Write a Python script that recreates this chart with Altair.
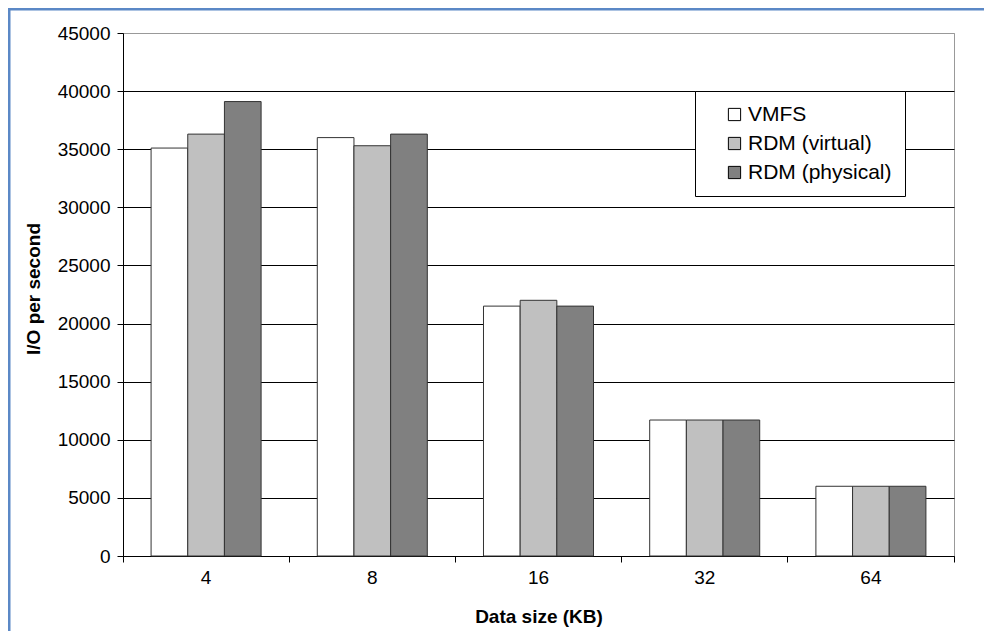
import altair as alt
import pandas as pd

categories = ["4", "8", "16", "32", "64"]
series = ["VMFS", "RDM (virtual)", "RDM (physical)"]
vmfs = [35100, 36000, 21500, 11700, 6000]
rdm_virtual = [36300, 35300, 22000, 11700, 6000]
rdm_physical = [39100, 36300, 21500, 11700, 6000]
y_ticks = [0, 5000, 10000, 15000, 20000, 25000, 30000, 35000, 40000, 45000]
colors = ["#ffffff", "#c0c0c0", "#808080"]

rows = []
for s, vals in zip(series, [vmfs, rdm_virtual, rdm_physical]):
    for c, v in zip(categories, vals):
        rows.append({"size": c, "series": s, "value": v})
df = pd.DataFrame(rows)

FONT = "Liberation Sans"
W, H = 831, 523

bars = alt.Chart(df).mark_bar(stroke="#333333", strokeWidth=1).encode(
    x=alt.X(
        "size:N",
        sort=categories,
        scale=alt.Scale(paddingInner=0, paddingOuter=0),
        axis=alt.Axis(
            title="Data size (KB)",
            labelAngle=0,
            labelFontSize=19,
            labelPadding=6,
            tickSize=6,
            bandPosition=1,
            tickExtra=True,
            titleFontSize=19,
            titleFontWeight="bold",
            titleY=60,
            titleBaseline="middle",
            domainColor="#000000",
            tickColor="#000000",
            labelColor="#000000",
            titleColor="#000000",
        ),
    ),
    xOffset=alt.XOffset(
        "series:N",
        sort=series,
        scale=alt.Scale(paddingInner=0, paddingOuter=0.766),
    ),
    y=alt.Y(
        "value:Q",
        scale=alt.Scale(domain=[0, 45000], nice=False),
        axis=alt.Axis(
            title="I/O per second",
            values=y_ticks,
            format="d",
            labelFontSize=19,
            labelPadding=7,
            tickSize=6,
            grid=True,
            gridColor={"condition": {"test": "datum.value === 45000", "value": "#999999"}, "value": "#000000"},
            gridWidth=1,
            titleFontSize=19,
            titleFontWeight="bold",
            titleX=-90,
            titleY=H / 2 - 6,
            titleBaseline="middle",
            domainColor="#000000",
            tickColor="#000000",
            labelColor="#000000",
            titleColor="#000000",
        ),
    ),
    color=alt.Color(
        "series:N",
        sort=series,
        scale=alt.Scale(domain=series, range=colors),
        legend=alt.Legend(
            title=None,
            orient="none",
            legendX=572,
            legendY=58,
            strokeColor="#000000",
            fillColor="#ffffff",
            padding=13,
            symbolOffset=16,
            symbolType="square",
            symbolSize=150,
            symbolStrokeColor="#000000",
            symbolStrokeWidth=1,
            labelFontSize=21,
            labelColor="#000000",
            rowPadding=7,
            labelOffset=3,
        ),
    ),
)

frame_v = alt.Chart(alt.Data(values=[{}])).mark_rule(color="#5b88c6", strokeWidth=3).encode(
    x=alt.value(-114), y=alt.value(-25), y2=alt.value(H + 120)
)
frame_h = alt.Chart(alt.Data(values=[{}])).mark_rule(color="#5b88c6", strokeWidth=3).encode(
    y=alt.value(-24), x=alt.value(-115), x2=alt.value(W + 60)
)

chart = alt.layer(bars, frame_v, frame_h).properties(
    width=W,
    height=H,
    autosize=alt.AutoSizeParams(type="none"),
    padding={"left": 115, "top": 25, "right": 30, "bottom": 75},
).configure(
    font=FONT,
    background="#ffffff",
).configure_view(
    stroke="#999999",
    strokeWidth=1,
)

chart.save("out.html", embed_options={"renderer": "svg", "actions": False})
